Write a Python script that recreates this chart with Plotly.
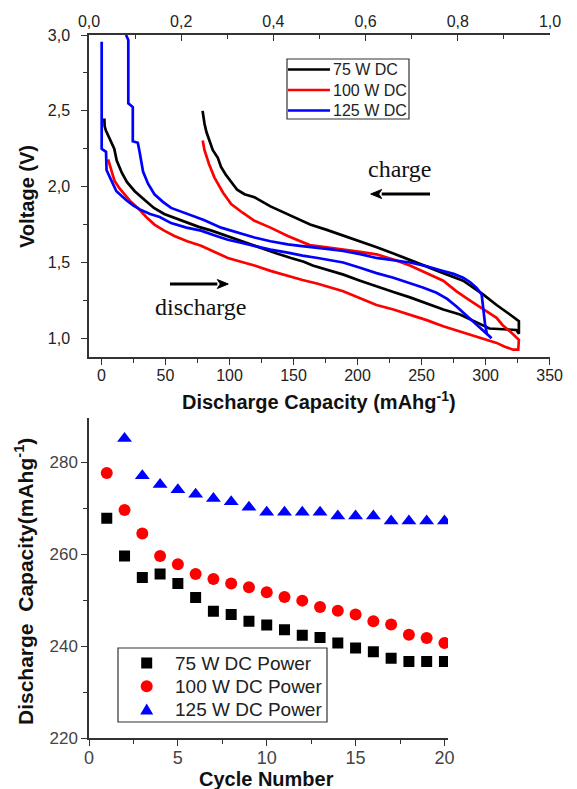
import plotly.graph_objects as go

# ---------------- top panel data (capacity mAh/g, voltage V) ----------------
# each loop: discharge (left->right) followed by charge (right->left)
cap_75 = [2.3, 2.5, 3.5, 5, 7, 10, 12, 16, 20, 26, 34, 41, 49, 58, 67, 76, 86, 96, 106, 116,
          127, 137, 148, 158, 165, 177, 189, 202, 215, 228, 241, 254, 267, 280, 295, 303, 314,
          324, 326,
          326, 319, 313, 308.6, 298, 290, 282.5, 267, 254, 241, 228, 215, 202, 189, 176, 163,
          155, 145.5, 132, 119.5, 111.7, 106, 101.3, 97, 93.4, 90.9, 87, 84.4, 82, 80.5, 79.1, 79]
volt_75 = [2.45, 2.40, 2.37, 2.34, 2.30, 2.25, 2.17, 2.09, 2.03, 1.97, 1.91, 1.86, 1.82, 1.79,
           1.76, 1.735, 1.71, 1.68, 1.65, 1.62, 1.59, 1.56, 1.53, 1.505, 1.48, 1.45, 1.42, 1.38,
           1.34, 1.305, 1.27, 1.23, 1.19, 1.157, 1.10, 1.065, 1.06, 1.055, 1.03,
           1.113, 1.157, 1.19, 1.22, 1.29, 1.335, 1.38, 1.43, 1.475, 1.52, 1.56, 1.60, 1.64,
           1.675, 1.715, 1.75, 1.78, 1.82, 1.87, 1.93, 1.95, 1.98, 2.03, 2.08, 2.13, 2.19, 2.24,
           2.30, 2.36, 2.415, 2.48, 2.50]

cap_100 = [5.2, 6.2, 8, 10.2, 14, 18, 23, 28.4, 35, 41.4, 49, 57, 67, 77.8, 88, 98.7, 109, 119.5,
           132, 145.5, 157, 169, 179, 188.8, 202, 214.8, 228, 240.9, 254, 266.9, 280, 293, 300,
           308.6, 315, 321.6, 325.5,
           326, 319, 313, 308.6, 300, 293, 285, 277.3, 266.9, 254, 240.9, 228, 214.8, 202, 188.8,
           176, 162.7, 145.5, 132, 119.5, 110, 101.3, 95, 88.3, 84, 80.5, 79.1]
volt_100 = [2.18, 2.15, 2.09, 2.04, 1.99, 1.95, 1.90, 1.86, 1.80, 1.75, 1.71, 1.675, 1.64, 1.61,
            1.57, 1.53, 1.505, 1.48, 1.445, 1.41, 1.385, 1.36, 1.335, 1.31, 1.265, 1.22, 1.19,
            1.157, 1.12, 1.08, 1.045, 1.01, 0.99, 0.97, 0.945, 0.925, 0.925,
            0.99, 1.046, 1.09, 1.135, 1.18, 1.22, 1.265, 1.31, 1.38, 1.43, 1.48, 1.52, 1.554,
            1.57, 1.587, 1.60, 1.615, 1.675, 1.73, 1.775, 1.83, 1.885, 1.96, 2.06, 2.15, 2.24, 2.305]

cap_125 = [0.2, 0.2, 3.6, 4, 7.8, 11.7, 19.5, 25, 30, 38, 45.5, 54.4, 66.4, 77.8, 88, 98.7, 109,
           119.5, 132, 145.5, 157, 169, 178, 188.8, 202, 214.8, 228, 240.9, 251, 261.7, 270,
           277.3, 284, 290.3, 296, 300.8, 304.7,
           301, 299.5, 298, 296.9, 293, 288, 282.5, 275, 266.9, 254, 240.9, 228, 214.8, 202,
           188.8, 176, 162.7, 155, 145.5, 132, 119.5, 106, 93.4, 80, 67.4, 60, 54.4, 48, 41.4,
           36.4, 32.5, 30, 28.4, 24.5, 24.5, 21, 21, 19.2]
volt_125 = [2.955, 2.25, 2.23, 2.11, 2.04, 1.97, 1.91, 1.875, 1.85, 1.82, 1.80, 1.76, 1.73, 1.71,
            1.68, 1.65, 1.63, 1.61, 1.585, 1.565, 1.545, 1.53, 1.515, 1.50, 1.465, 1.43, 1.40,
            1.366, 1.335, 1.30, 1.26, 1.21, 1.16, 1.11, 1.07, 1.035, 1.00,
            1.03, 1.10, 1.20, 1.29, 1.333, 1.37, 1.40, 1.425, 1.444, 1.475, 1.50, 1.515, 1.53,
            1.555, 1.576, 1.59, 1.60, 1.61, 1.62, 1.64, 1.665, 1.70, 1.73, 1.78, 1.82, 1.84,
            1.86, 1.90, 1.95, 2.02, 2.10, 2.22, 2.29, 2.30, 2.525, 2.55, 2.967, 3.0]

top_names = ["75 W DC", "100 W DC", "125 W DC"]

# ---------------- bottom panel data ----------------
cycles = list(range(1, 21))
cap75_cycle = [267.8, 259.6, 254.9, 255.7, 253.6, 250.6, 247.6, 246.9, 245.4, 244.6, 243.6,
               242.4, 241.9, 240.7, 239.6, 238.8, 237.4, 236.7, 236.7, 236.7]
cap100_cycle = [277.6, 269.6, 264.5, 259.6, 257.8, 255.7, 254.6, 253.6, 252.8, 251.7, 250.7,
                249.9, 248.5, 247.7, 246.9, 245.4, 244.7, 242.5, 241.8, 240.7]
cycles125 = list(range(2, 21))
cap125_cycle = [285.1, 277.0, 275.1, 274.0, 273.0, 272.1, 271.4, 270.2, 269.1, 269.1, 269.1,
                269.1, 268.3, 268.3, 268.3, 267.2, 267.2, 267.2, 267.2]
bottom_names = ["75 W DC Power", "100 W DC Power", "125 W DC Power"]

# the page body has an 8 px margin, so the figure is sized to fit and
# window pixel positions are converted with that offset
OFF = 8
W, H = 577 - OFF, 789 - OFF
def px(x):
    return (x - OFF) / W
def py(y):
    return 1 - (y - OFF) / H

AX = "#333333"
SANS = "Liberation Sans, Arial, sans-serif"
SERIF = "Liberation Serif, Times New Roman, serif"
COLORS = ["black", "#ff0000", "#0000ff"]

fig = go.Figure()

for cap, volt, name, col in [(cap_75, volt_75, top_names[0], COLORS[0]),
                             (cap_100, volt_100, top_names[1], COLORS[1]),
                             (cap_125, volt_125, top_names[2], COLORS[2])]:
    fig.add_trace(go.Scatter(x=cap, y=volt, mode="lines", name=name, showlegend=False,
                             line=dict(color=col, width=2.7), xaxis="x", yaxis="y"))

# invisible trace to realise the top (secondary) x axis
fig.add_trace(go.Scatter(x=[0, 1], y=[None, None], mode="lines", xaxis="x3", yaxis="y",
                         showlegend=False, hoverinfo="skip"))

for xs, ys, name, col, sym, sz in [(cycles, cap75_cycle, bottom_names[0], COLORS[0], "square", 11),
                                   (cycles, cap100_cycle, bottom_names[1], COLORS[1], "circle", 12),
                                   (cycles125, cap125_cycle, bottom_names[2], COLORS[2], "triangle-up", 13)]:
    fig.add_trace(go.Scatter(x=xs, y=ys, mode="markers", name=name, showlegend=False,
                             marker=dict(color=col, symbol=sym, size=sz, line=dict(width=0)),
                             xaxis="x2", yaxis="y2"))

common = dict(showline=True, linecolor=AX, linewidth=1.5, showgrid=False, zeroline=False,
              tickcolor=AX, tickwidth=1.3, automargin=False)

fig.update_layout(
    width=W, height=H, margin=dict(l=0, r=0, t=0, b=0, autoexpand=False),
    paper_bgcolor="white", plot_bgcolor="white",
    separators=", ", showlegend=False,
    font=dict(family=SANS, color="#222"),
    xaxis=dict(domain=[px(89), px(550)], anchor="y", range=[-9.7, 350.3], tick0=0, dtick=50,
               ticks="outside", ticklen=6, ticklabelstandoff=-3,
               minor=dict(dtick=25, ticks="outside", ticklen=4, tickcolor=AX),
               tickfont=dict(size=16, color="#222"), **common),
    yaxis=dict(domain=[py(357), py(35)], anchor="x", range=[0.877, 3.0], tick0=1.0, dtick=0.5,
               tickformat=".1f", ticks="outside", ticklen=6, ticklabelstandoff=8,
               minor=dict(dtick=0.25, ticks="outside", ticklen=4, tickcolor=AX),
               tickfont=dict(size=16, color="#222"), **common),
    xaxis3=dict(overlaying="x", side="top", anchor="y", range=[0, 1], tick0=0, dtick=0.2,
                tickformat=".1f", ticks="inside", ticklen=6,
                minor=dict(dtick=0.1, ticks="inside", ticklen=4, tickcolor=AX),
                tickfont=dict(size=16, color="#222"), **common),
    xaxis2=dict(domain=[px(89), px(448)], anchor="y2", range=[0, 20.2], tick0=0, dtick=5,
                ticks="outside", ticklen=6, ticklabelstandoff=-4,
                minor=dict(dtick=2.5, ticks="outside", ticklen=4, tickcolor=AX),
                tickfont=dict(size=18, color="#444"), **common),
    yaxis2=dict(domain=[py(738.3), py(418.3)], anchor="x2", range=[220, 289.5], tick0=220,
                dtick=20, ticks="outside", ticklen=6,
                minor=dict(dtick=10, ticks="outside", ticklen=4, tickcolor=AX),
                tickfont=dict(size=17, color="#444"), **common),
)

ann = [
    dict(text="<b>Voltage (V)</b>", x=px(27), y=py(197), textangle=-90,
         font=dict(size=20, family=SANS, color="#111")),
    dict(text="<b>Discharge Capacity (mAhg<sup>-1</sup>)</b>", x=px(319), y=py(400),
         font=dict(size=20, family=SANS, color="#111")),
    dict(text="<b>Cycle Number</b>", x=px(266), y=py(779),
         font=dict(size=20, family=SANS, color="#111")),
    dict(text="<b>Discharge  Capacity(mAhg<sup>-1</sup>)</b>", x=px(24), y=py(582), textangle=-90,
         font=dict(size=21, family=SANS, color="#111")),
    dict(text="charge", x=px(400), y=py(169), font=dict(size=24, family=SERIF, color="#111")),
    dict(text="discharge", x=px(200.7), y=py(306.7), font=dict(size=24, family=SERIF, color="#111")),
]
for a in ann:
    fig.add_annotation(xref="paper", yref="paper", showarrow=False, xanchor="center",
                       yanchor="middle", **a)

# ---------- legends (drawn by hand to match the boxed legends of the original) ----------
def shape(**kw):
    fig.add_shape(xref="paper", yref="paper", **kw)

# top legend
shape(type="rect", x0=px(287), x1=px(409), y0=py(59), y1=py(119),
      line=dict(color=AX, width=1.2), fillcolor="white")
for i, (name, col) in enumerate(zip(top_names, COLORS)):
    yy = 69.5 + i * 20.5
    shape(type="line", x0=px(288), x1=px(330), y0=py(yy), y1=py(yy),
          line=dict(color=col, width=2.7))
    fig.add_annotation(xref="paper", yref="paper", x=px(331), y=py(yy), text=name,
                       showarrow=False, xanchor="left", yanchor="middle",
                       font=dict(size=16, family=SANS, color="#222"))

# bottom legend
shape(type="rect", x0=px(118), x1=px(327), y0=py(648), y1=py(722),
      line=dict(color=AX, width=1.2), fillcolor="white")
mx = 146.7
for i, (name, col) in enumerate(zip(bottom_names, COLORS)):
    yy = 663 + i * 23.3
    if i == 0:
        shape(type="rect", x0=px(mx - 5.5), x1=px(mx + 5.5), y0=py(yy - 5.5), y1=py(yy + 5.5),
              fillcolor=col, line=dict(width=0))
    elif i == 1:
        shape(type="circle", x0=px(mx - 6), x1=px(mx + 6), y0=py(yy - 6), y1=py(yy + 6),
              fillcolor=col, line=dict(width=0))
    else:
        shape(type="path", path=f"M {px(mx - 6.5)} {py(yy + 5)} L {px(mx + 6.5)} {py(yy + 5)} "
                                f"L {px(mx)} {py(yy - 6)} Z",
              fillcolor=col, line=dict(width=0))
    fig.add_annotation(xref="paper", yref="paper", x=px(172.7), y=py(yy), text=name,
                       showarrow=False, xanchor="left", yanchor="middle",
                       font=dict(size=19, family=SANS, color="#222"))

# ---------- arrows drawn as shapes (shaft + head) ----------
def arrow(x_tail, x_head, y):
    d = 1 if x_head > x_tail else -1
    base = x_head - d * 11
    shape(type="line", x0=px(x_tail), y0=py(y), x1=px(base), y1=py(y),
          line=dict(color="black", width=3))
    shape(type="path",
          path=f"M {px(x_head)} {py(y)} L {px(base)} {py(y - 4.5)} "
               f"L {px(base + d * 3)} {py(y)} L {px(base)} {py(y + 4.5)} Z",
          fillcolor="black", line=dict(color="black", width=1))

arrow(430, 370.7, 194)
arrow(170, 228.3, 284)

fig.write_html("out.html")
